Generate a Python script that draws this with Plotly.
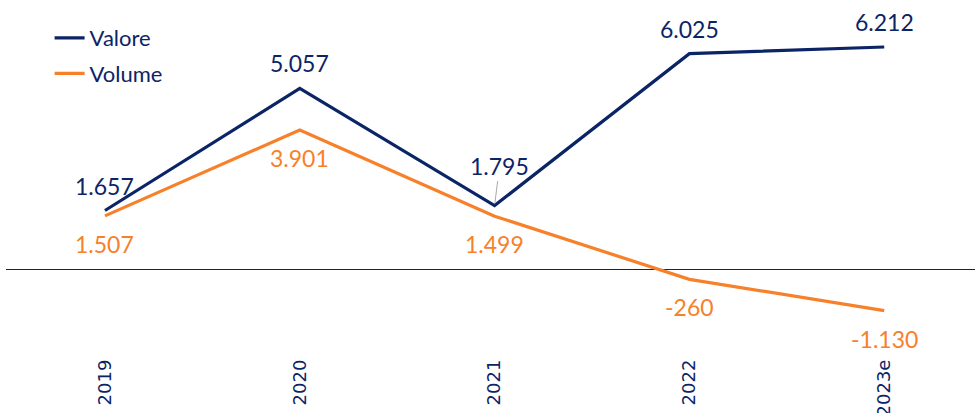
import plotly.graph_objects as go

categories = ["2019", "2020", "2021", "2022", "2023e"]
valore = [1657, 5057, 1795, 6025, 6212]
volume = [1507, 3901, 1499, -260, -1130]

NAVY = "#0b2466"
ORANGE = "#f7812a"
FONT = "Lato, sans-serif"


def fmt(v):
    s = f"{abs(v):,}".replace(",", ".")
    return ("-" if v < 0 else "") + s


fig = go.Figure()
fig.add_trace(go.Scatter(x=categories, y=valore, mode="lines", name="Valore",
                         line=dict(color=NAVY, width=3.2), legendgroup="a"))
fig.add_trace(go.Scatter(x=categories, y=volume, mode="lines", name="Volume",
                         line=dict(color=ORANGE, width=3.2), legendgroup="b"))

# value labels (x given as category index)
for i, (c, v) in enumerate(zip(categories, valore)):
    if c == "2021":
        fig.add_annotation(x=i, y=v, text=fmt(v), showarrow=True, arrowhead=0,
                           arrowwidth=1, arrowcolor="#aaaaaa", ax=5, ay=-40,
                           standoff=2, font=dict(color=NAVY, size=23, family=FONT),
                           yanchor="middle")
    else:
        fig.add_annotation(x=i, y=v, text=fmt(v), showarrow=False, yshift=25,
                           font=dict(color=NAVY, size=23, family=FONT))
for i, (c, v) in enumerate(zip(categories, volume)):
    fig.add_annotation(x=i, y=v, text=fmt(v), showarrow=False, yshift=-28,
                       font=dict(color=ORANGE, size=23, family=FONT))

fig.update_layout(
    width=975, height=413,
    margin=dict(l=6, r=0, t=0, b=58, autoexpand=False),
    paper_bgcolor="white", plot_bgcolor="white",
    showlegend=True,
    legend=dict(x=0.045, y=0.952, xanchor="left", yanchor="top",
                font=dict(color=NAVY, size=22, family=FONT),
                traceorder="grouped", tracegroupgap=4,
                bgcolor="rgba(0,0,0,0)", itemwidth=30),
    xaxis=dict(type="category", range=[-0.508, 4.466], showgrid=False,
               showline=False, ticks="", tickangle=-90, automargin=False,
               tickfont=dict(color=NAVY, size=18, family="DejaVu Sans")),
    yaxis=dict(range=[-2368, 7521], showgrid=False, showticklabels=False,
               zeroline=True, zerolinecolor=NAVY, zerolinewidth=1, showline=False,
               automargin=False),
)

fig.write_html("out.html", config={"displayModeBar": False},
               post_script="document.body.style.margin='0';document.body.style.padding='0';")
